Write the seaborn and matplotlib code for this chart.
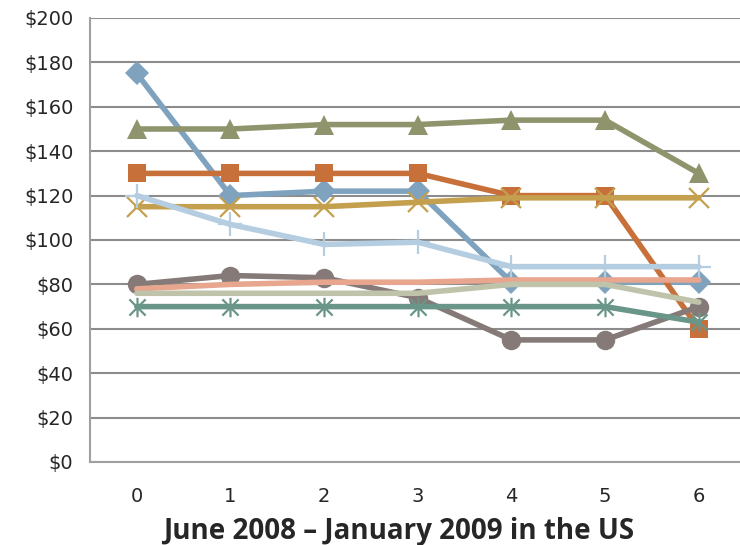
import pandas as pd
import matplotlib.pyplot as plt
import seaborn as sns
from matplotlib.path import Path

months = [0, 1, 2, 3, 4, 5, 6]

diamond_prices = [175, 120, 122, 122, 81, 81, 81]
square_prices = [130, 130, 130, 130, 120, 120, 60]
triangle_prices = [150, 150, 152, 152, 154, 154, 130]
x_prices = [115, 115, 115, 117, 119, 119, 119]
plus_prices = [120, 107, 98, 99, 88, 88, 88]
circle_prices = [80, 84, 83, 74, 55, 55, 70]
asterisk_prices = [70, 70, 70, 70, 70, 70, 63]
pink_prices = [78, 80, 81, 81, 82, 82, 82]
sage_prices = [76, 76, 76, 76, 80, 80, 72]

# Excel style asterisk: an X with a vertical stroke through it
star = Path(
    [(-1, -1), (1, 1), (-1, 1), (1, -1), (0, -1.2), (0, 1.2)],
    [Path.MOVETO, Path.LINETO, Path.MOVETO, Path.LINETO, Path.MOVETO, Path.LINETO],
)

series = [
    ("diamond", diamond_prices, "#7FA3BE", "D", 12, 0),
    ("square", square_prices, "#C8703A", "s", 13, 0),
    ("triangle", triangle_prices, "#8F946D", "^", 15, 0),
    ("x", x_prices, "#C49F4E", "x", 15, 1.6),
    ("plus", plus_prices, "#B5CDE1", "+", 17, 1.6),
    ("circle", circle_prices, "#857A77", "o", 14, 0),
    ("asterisk", asterisk_prices, "#6A9589", star, 14, 1.6),
    ("pink", pink_prices, "#E8A68E", None, 0, 0),
    ("sage", sage_prices, "#BEC3A9", None, 0, 0),
]

sns.set_style("white")
plt.rcParams["font.family"] = ["DejaVu Sans"]

fig = plt.figure(figsize=(7.4, 5.45), dpi=100)
ax = fig.add_axes([90 / 740, 1 - 462 / 545, 650 / 740, 444 / 545])

for name, vals, color, marker, ms, mew in series:
    df = pd.DataFrame({"month": months, "price": vals})
    kw = dict(color=color, linewidth=4)
    if marker is not None:
        kw.update(marker=marker, markersize=ms, markeredgewidth=mew,
                  markeredgecolor=color, markerfacecolor=color)
    sns.lineplot(data=df, x="month", y="price", ax=ax, **kw)

ax.set_xlim(-0.5, 6.44)
ax.set_ylim(0, 200)
ax.set_yticks(range(0, 201, 20))
ax.set_yticklabels([f"${v}" for v in range(0, 201, 20)], fontsize=14)
ax.yaxis.grid(True, color="#8C8C8C", linewidth=1.5)
ax.set_axisbelow(True)

ax.set_xticks(months)
ax.set_xticklabels([str(m) for m in months], fontsize=14)
ax.set_xticks([m - 0.5 for m in months], minor=True)
ax.tick_params(axis="x", which="major", length=0, pad=18)
ax.tick_params(axis="x", which="minor", length=7, width=1.3, color="#A0A0A0", direction="out")
ax.tick_params(axis="y", which="major", length=7, width=1.3, color="#A0A0A0", direction="out", pad=5)

for side in ["top", "right"]:
    ax.spines[side].set_visible(False)
for side in ["left", "bottom"]:
    ax.spines[side].set_color("#A0A0A0")
    ax.spines[side].set_linewidth(1.5)

ax.set_ylabel("")
ax.set_xlabel("June 2008 \u2013 January 2009 in the US", fontsize=20,
              fontweight="bold", family=["Open Sans", "DejaVu Sans"], labelpad=8)
ax.xaxis.label.set_x(0.475)

fig.savefig("out.png", dpi=100)
